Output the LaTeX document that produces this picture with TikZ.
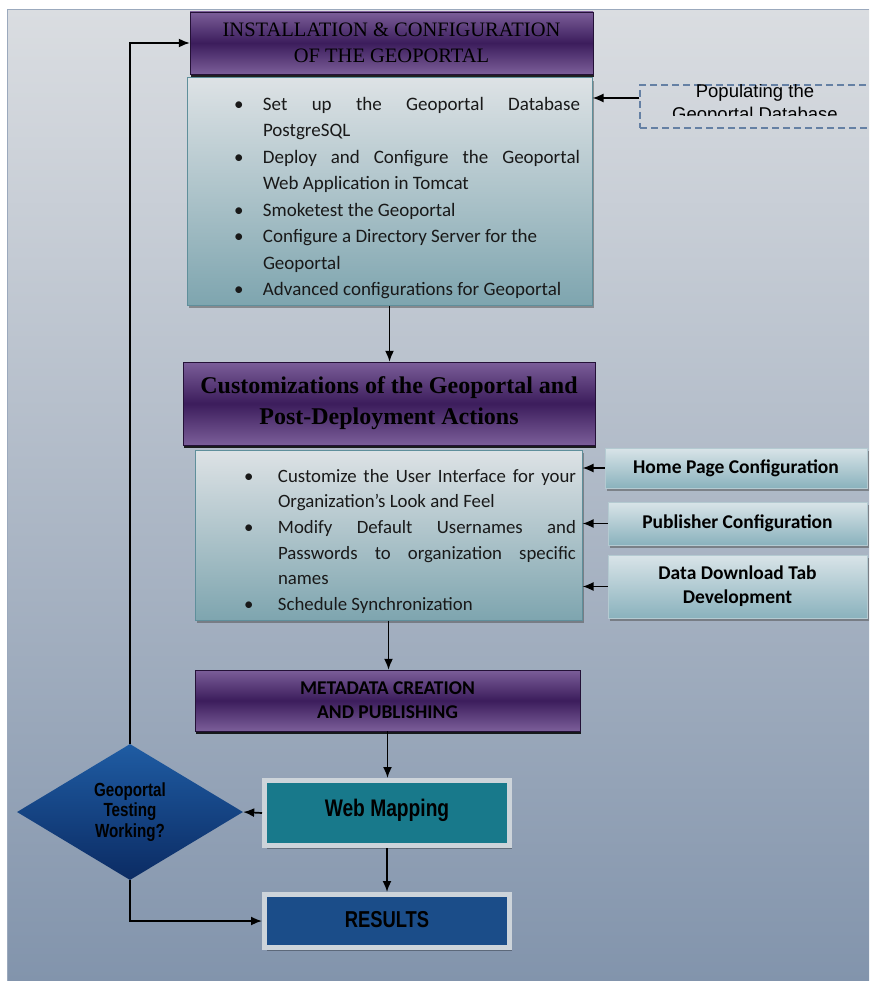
\documentclass[tikz,border=0pt]{standalone}
\usepackage{fontspec}
\setmainfont{Carlito}
\newfontfamily\gpserif{Liberation Serif}
\newfontfamily\gparial{Liberation Sans}
\newfontfamily\gpnarrow[FakeStretch=0.8]{Liberation Sans}
\usetikzlibrary{shapes.geometric,shadows,arrows.meta}

\definecolor{panelTop}{HTML}{DADDE1}
\definecolor{panelBot}{HTML}{8294AC}
\definecolor{purpleDk}{HTML}{3C1D5C}
\definecolor{purpleLt}{HTML}{7B5E99}
\definecolor{bodyTop}{HTML}{DDE2E5}
\definecolor{bodyBot}{HTML}{7EA5AF}
\definecolor{bodyLine}{HTML}{5F8F9B}
\definecolor{sideTop}{HTML}{D9E4E8}
\definecolor{sideBot}{HTML}{8AB2BD}
\definecolor{webTeal}{HTML}{18798B}
\definecolor{resBlue}{HTML}{1B4D89}
\definecolor{frameGrey}{HTML}{CDD4DA}
\definecolor{dashBlue}{HTML}{6580A4}
\definecolor{diaTop}{HTML}{1F5CA3}
\definecolor{diaBot}{HTML}{0B2B63}

\newlength\gphang
\newcommand\gpitem{\par\noindent\hangindent=\gphang\hangafter=1\makebox[\gphang][l]{\textbullet}}

\begin{document}
\begin{tikzpicture}[x=1pt,y=-1pt,
  arr/.style={-{Latex[length=11pt,width=9pt]}, line width=1.7pt, black},
  titlebox/.style={draw=purpleDk!60!black, top color=purpleLt, bottom color=purpleLt, middle color=purpleDk,
    text=black, inner sep=0pt, align=center,
    drop shadow={shadow xshift=1pt, shadow yshift=-3pt, opacity=.85, fill=black}},
  bodybox/.style={draw=bodyLine, line width=1pt, top color=bodyTop, bottom color=bodyBot, inner sep=0pt,
    text=black!90, align=justify,
    drop shadow={shadow xshift=2pt, shadow yshift=-3pt, opacity=.5, fill=black!70}},
  sidebox/.style={draw=sideTop!70!bodyLine, line width=1pt, top color=sideTop, bottom color=sideBot, inner sep=0pt,
    align=center, font=\bfseries\fontsize{19.5}{24}\selectfont,
    drop shadow={shadow xshift=2pt, shadow yshift=-3pt, opacity=.5, fill=black!70}},
  framebox/.style={draw=frameGrey, line width=5pt, inner sep=0pt, text=black,
    font=\gpnarrow\bfseries\fontsize{24}{26}\selectfont,
    drop shadow={shadow xshift=2pt, shadow yshift=-3pt, opacity=.3, fill=black}}]

\useasboundingbox (0,0) rectangle (869,981);
\shade[top color=panelTop, bottom color=panelBot] (7,10) rectangle (869,981);
\draw[color=panelBot!80!white, line width=1pt] (869,10) -- (7,10) -- (7,981);

\node[titlebox, minimum width=403pt, minimum height=62pt, font=\gpserif\fontsize{20.5}{26}\selectfont] (inst) at (391.5,43)
  {INSTALLATION \& CONFIGURATION\\OF THE GEOPORTAL};
\node[bodybox, minimum width=405pt, minimum height=227pt, text width=381pt, font=\fontsize{19}{26.5}\selectfont] (instbody) at (389.5,191.5)
  {\setlength\gphang{29pt}\leftskip=35pt
   \gpitem Set up the Geoportal Database\linebreak PostgreSQL
   \gpitem Deploy and Configure the Geoportal\linebreak Web Application in Tomcat
   \gpitem Smoketest the Geoportal
   \gpitem Configure a Directory Server for the\hfill\break Geoportal
   \gpitem Advanced configurations for Geoportal\par};

\node[draw=dashBlue, dashed, dash pattern=on 7pt off 4pt, line width=1.2pt, minimum width=240pt, minimum height=43pt, inner sep=0pt] (popul) at (760,106.5) {};
\begin{scope}
\clip (popul.north west) rectangle ([yshift=13pt]popul.south east);
\node[font=\gparial\fontsize{18.5}{23}\selectfont, align=center, inner sep=0pt] (popultext) at (755,104.5) {Populating the\\Geoportal Database};
\end{scope}

\node[titlebox, minimum width=412pt, minimum height=83pt, font=\gpserif\bfseries\fontsize{24}{31}\selectfont] (cust) at (389,403.5)
  {Customizations of the Geoportal and\\Post-Deployment Actions};
\node[bodybox, minimum width=387pt, minimum height=170pt, text width=375pt, font=\fontsize{18.8}{25.6}\selectfont] (custbody) at (388.5,535)
  {\setlength\gphang{34pt}\leftskip=43pt
   \gpitem Customize the User Interface for your\linebreak Organization's Look and Feel
   \gpitem Modify Default Usernames and\linebreak Passwords to organization specific\linebreak names
   \gpitem Schedule Synchronization\par};

\node[sidebox, minimum width=262pt, minimum height=40pt] (home) at (736,468) {Home Page Configuration};
\node[sidebox, minimum width=259pt, minimum height=43pt] (publ) at (737.5,523.5) {Publisher Configuration};
\node[sidebox, minimum width=259pt, minimum height=63pt] (dtab) at (737.5,586.5) {Data Download Tab\\Development};

\node[titlebox, minimum width=385pt, minimum height=61pt, font=\bfseries\fontsize{19.5}{24}\selectfont] (meta) at (387.5,700.5)
  {METADATA CREATION\\AND PUBLISHING};

\node[framebox, fill=webTeal, minimum width=245pt, minimum height=65pt] (web) at (387,813) {\raisebox{11pt}{Web Mapping}};
\node[framebox, fill=resBlue, minimum width=245pt, minimum height=53pt, font=\gpnarrow\bfseries\fontsize{23}{24}\selectfont] (res) at (387,921) {\raisebox{4pt}{RESULTS}};

\node[diamond, top color=diaTop, bottom color=diaBot, minimum width=226pt, minimum height=136pt, inner sep=0pt, aspect=1.66,
  align=center, font=\gpnarrow\bfseries\fontsize{19}{20.5}\selectfont, text=black] (test) at (130,812)
  {Geoportal\\Testing\\Working?};

\draw[arr] (popul.west |- 0,98) -- (instbody.east |- 0,98);
\draw[arr] (instbody.south) -- (instbody.south |- cust.north);
\draw[arr] (home.west) -- (home.west -| custbody.east);
\draw[arr] (publ.west) -- (publ.west -| custbody.east);
\draw[arr] (dtab.west) -- (dtab.west -| custbody.east);
\draw[arr] (custbody.south) -- (custbody.south |- meta.north);
\draw[arr] (meta.south) -- (meta.south |- web.north);
\draw[arr] (web.south) -- (web.south |- res.north);
\draw[arr] (web.west) -- (test.east);
\draw[arr] (test.south) |- (res.west);
\draw[arr] (test.north) |- (inst.west);
\end{tikzpicture}
\end{document}
